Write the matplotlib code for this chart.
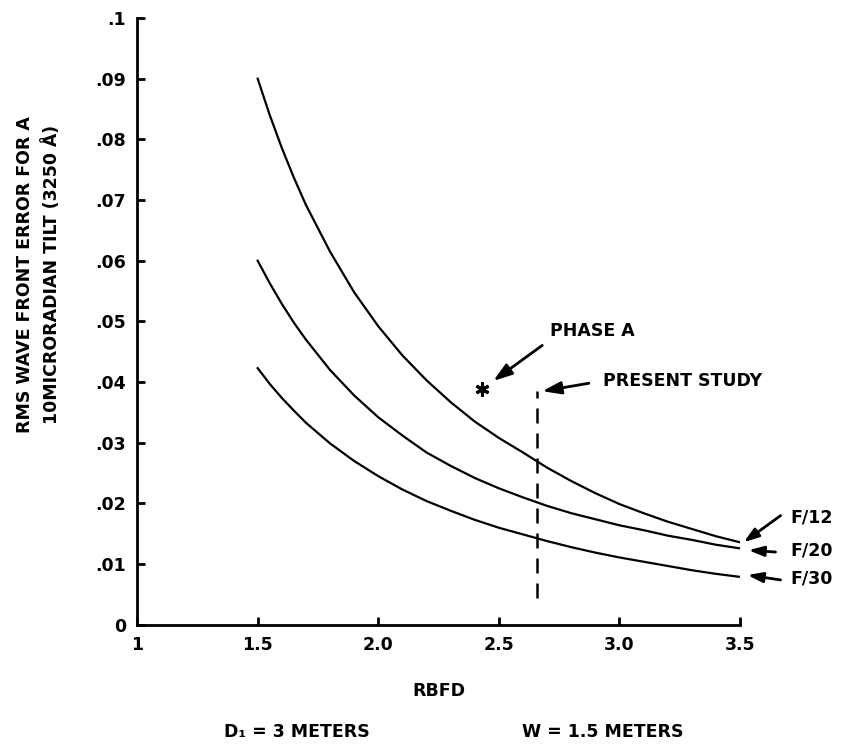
import matplotlib
matplotlib.use("Agg")
import matplotlib.pyplot as plt

# RBFD values and wave front error
rbfd = [1.5, 1.55, 1.6, 1.65, 1.7, 1.8, 1.9, 2.0, 2.1, 2.2, 2.3, 2.4, 2.5,
        2.6, 2.7, 2.8, 2.9, 3.0, 3.1, 3.2, 3.3, 3.4, 3.5]
f12 = [0.0900, 0.0840, 0.0786, 0.0737, 0.0692, 0.0615, 0.0548, 0.0492, 0.0444,
       0.0403, 0.0367, 0.0335, 0.0308, 0.0284, 0.0259, 0.0237, 0.0217, 0.0199,
       0.0184, 0.0170, 0.0158, 0.0146, 0.0136]
f20 = [0.0600, 0.0563, 0.0529, 0.0498, 0.0470, 0.0420, 0.0378, 0.0342, 0.0312,
       0.0284, 0.0262, 0.0242, 0.0225, 0.0210, 0.0196, 0.0184, 0.0174, 0.0164,
       0.0156, 0.0147, 0.0140, 0.0132, 0.0126]
f30 = [0.0423, 0.0397, 0.0374, 0.0353, 0.0333, 0.0299, 0.0270, 0.0245, 0.0223,
       0.0204, 0.0188, 0.0173, 0.0160, 0.0149, 0.0138, 0.0128, 0.0119, 0.0111,
       0.0104, 0.0097, 0.0090, 0.0084, 0.0079]
curve_labels = ["F/12", "F/20", "F/30"]

phase_a = (2.43, 0.0389)
present_study_x = 2.66
present_study_y = [0.0045, 0.0385]

x_ticks = [1, 1.5, 2.0, 2.5, 3.0, 3.5]
x_tick_labels = ["1", "1.5", "2.0", "2.5", "3.0", "3.5"]
y_ticks = [0, 0.01, 0.02, 0.03, 0.04, 0.05, 0.06, 0.07, 0.08, 0.09, 0.1]
y_tick_labels = ["0", ".01", ".02", ".03", ".04", ".05", ".06", ".07", ".08", ".09", ".1"]

plt.rcParams["font.family"] = "DejaVu Sans"
plt.rcParams["font.weight"] = "bold"
fs = 12.5

fig = plt.figure(figsize=(8.41, 7.51), dpi=100)
ax = fig.add_axes([0.163, 0.168, 0.717, 0.808])

for ys in (f12, f20, f30):
    ax.plot(rbfd, ys, color="black", lw=1.6)

ax.plot([present_study_x, present_study_x], present_study_y, color="black",
        lw=1.8, linestyle=(0, (6, 4)))
ax.plot(*phase_a, marker=(6, 2, 0), color="black", markersize=10, mew=2.2)

arrow = dict(arrowstyle="-|>,head_length=0.9,head_width=0.3", lw=2, color="black",
             shrinkA=4, shrinkB=0)

ax.annotate("PHASE A", xy=(2.477, 0.0402), xytext=(2.71, 0.0484),
            fontsize=fs, ha="left", va="center", annotation_clip=False,
            arrowprops=dict(arrow, relpos=(0, 0)))
ax.annotate("PRESENT STUDY", xy=(2.68, 0.0385), xytext=(2.93, 0.0402),
            fontsize=fs, ha="left", va="center", annotation_clip=False,
            arrowprops=dict(arrow, relpos=(0, 0.5), shrinkA=8))

label_pos = [(3.71, 0.0177), (3.71, 0.0123), (3.71, 0.0077)]
tails = [(3.668, 0.0180), (3.647, 0.0120), (3.668, 0.0074)]
heads = [(3.515, 0.0136), (3.535, 0.0123), (3.531, 0.0082)]
for lab, pos, tail, head in zip(curve_labels, label_pos, tails, heads):
    ax.text(pos[0], pos[1], lab, fontsize=fs, ha="left", va="center", clip_on=False)
    ax.annotate("", xy=head, xytext=tail, annotation_clip=False,
                arrowprops=dict(arrow, shrinkA=0))

ax.set_xlim(1, 3.5)
ax.set_ylim(0, 0.1)
ax.set_xticks(x_ticks)
ax.set_xticklabels(x_tick_labels)
ax.set_yticks(y_ticks)
ax.set_yticklabels(y_tick_labels)
ax.tick_params(direction="in", length=6, width=2, labelsize=fs, pad=8)
ax.spines["top"].set_visible(False)
ax.spines["right"].set_visible(False)
ax.spines["left"].set_linewidth(2)
ax.spines["bottom"].set_linewidth(2)

ax.set_xlabel("RBFD", fontsize=fs, fontweight="bold", labelpad=20)
fig.text(0.046, 0.635, "RMS WAVE FRONT ERROR FOR A\n10MICRORADIAN TILT (3250 Å)",
         rotation=90, ha="center", va="center", fontsize=fs, linespacing=1.55)

fig.text(0.353, 0.025, "D\u2081 = 3 METERS", ha="center", va="center", fontsize=fs)
fig.text(0.717, 0.025, "W = 1.5 METERS", ha="center", va="center", fontsize=fs)

fig.savefig("out.png", dpi=100)
